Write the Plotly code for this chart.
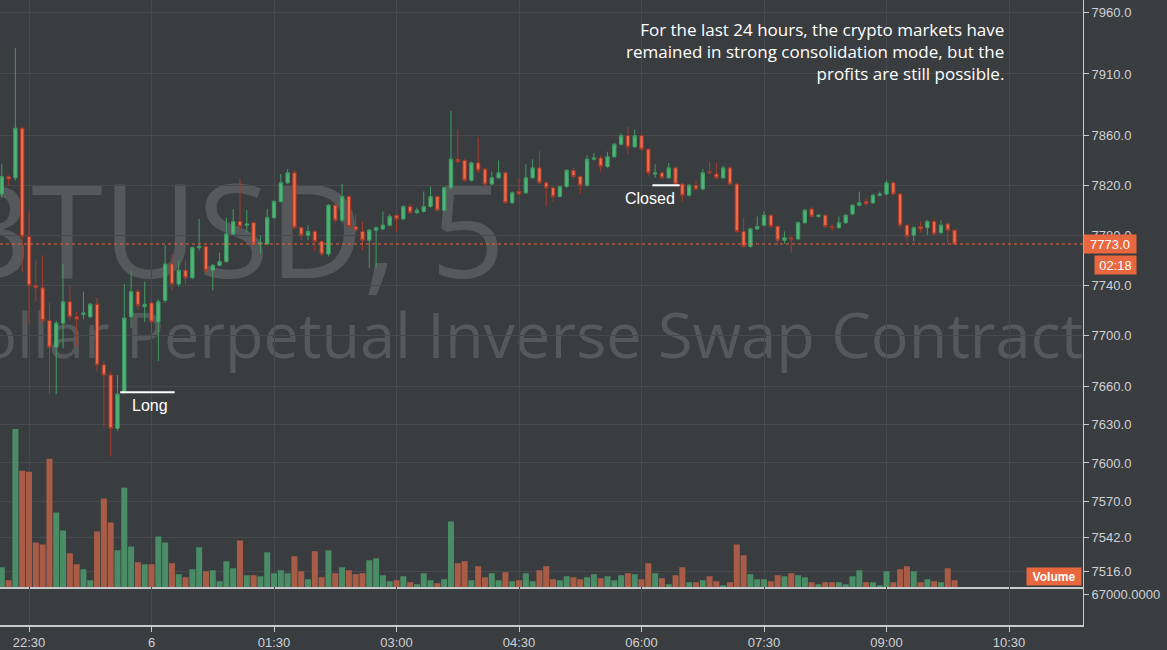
import math
import pandas as pd
import plotly.graph_objects as go

# ---------------- data (5-minute XBTUSD candles) ----------------
start_time = "2019-10-05 22:10"
n_bars = 141
times = pd.date_range(start_time, periods=n_bars, freq="5min")

open_ = [7813, 7827, 7826, 7866, 7779, 7740, 7738, 7712, 7691, 7710,
         7727, 7715, 7717, 7715, 7725, 7677, 7669, 7627, 7656, 7715,
         7735, 7723, 7726, 7711, 7728, 7757, 7741, 7752, 7746, 7770,
         7771, 7752, 7756, 7759, 7781, 7791, 7788, 7790, 7773, 7773,
         7794, 7807, 7822, 7830, 7786, 7780, 7783, 7775, 7765, 7804,
         7792, 7811, 7787, 7783, 7776, 7784, 7785, 7788, 7796, 7793,
         7803, 7798, 7799, 7803, 7811, 7800, 7818, 7841, 7840, 7824,
         7838, 7833, 7821, 7826, 7830, 7806, 7815, 7814, 7826, 7834,
         7822, 7818, 7811, 7819, 7832, 7827, 7820, 7841, 7842, 7835,
         7843, 7853, 7860, 7851, 7860, 7849, 7829, 7830, 7826, 7834,
         7821, 7812, 7820, 7817, 7831, 7829, 7826, 7834, 7821, 7783,
         7771, 7785, 7788, 7796, 7787, 7776, 7778, 7777, 7790, 7801,
         7795, 7796, 7787, 7786, 7790, 7797, 7804, 7807, 7806, 7812,
         7813, 7822, 7813, 7788, 7780, 7787, 7786, 7791, 7782, 7789,
         7784]
high = [7837, 7828, 7931, 7867, 7799, 7760, 7764, 7726, 7712, 7757,
        7739, 7719, 7735, 7726, 7730, 7680, 7672, 7669, 7741, 7752,
        7737, 7743, 7728, 7729, 7772, 7765, 7760, 7760, 7771, 7793,
        7772, 7757, 7766, 7794, 7801, 7825, 7800, 7791, 7780, 7801,
        7808, 7829, 7833, 7832, 7787, 7788, 7784, 7776, 7805, 7805,
        7821, 7812, 7797, 7791, 7785, 7787, 7799, 7797, 7797, 7804,
        7805, 7802, 7815, 7819, 7812, 7819, 7880, 7865, 7841, 7839,
        7859, 7834, 7831, 7840, 7831, 7815, 7826, 7837, 7841, 7848,
        7823, 7819, 7820, 7833, 7834, 7828, 7844, 7846, 7844, 7847,
        7854, 7862, 7867, 7865, 7861, 7850, 7837, 7831, 7838, 7835,
        7822, 7821, 7824, 7833, 7839, 7838, 7836, 7835, 7822, 7794,
        7786, 7795, 7799, 7797, 7788, 7783, 7779, 7791, 7801, 7803,
        7797, 7797, 7789, 7795, 7797, 7805, 7815, 7810, 7813, 7815,
        7824, 7823, 7814, 7789, 7787, 7791, 7792, 7793, 7792, 7790,
        7785]
low = [7810, 7820, 7824, 7751, 7710, 7727, 7710, 7654, 7654, 7690,
       7712, 7691, 7713, 7714, 7672, 7628, 7605, 7625, 7654, 7706,
       7721, 7711, 7702, 7680, 7726, 7736, 7739, 7741, 7745, 7768,
       7750, 7736, 7755, 7758, 7780, 7784, 7782, 7771, 7765, 7772,
       7793, 7806, 7821, 7785, 7776, 7776, 7767, 7763, 7763, 7790,
       7790, 7785, 7783, 7768, 7754, 7754, 7784, 7787, 7783, 7792,
       7797, 7797, 7798, 7802, 7799, 7799, 7817, 7838, 7823, 7823,
       7830, 7820, 7820, 7825, 7805, 7805, 7812, 7813, 7825, 7821,
       7803, 7807, 7810, 7818, 7825, 7813, 7819, 7840, 7831, 7834,
       7842, 7852, 7845, 7850, 7848, 7828, 7826, 7825, 7825, 7820,
       7807, 7811, 7816, 7816, 7829, 7825, 7825, 7820, 7782, 7770,
       7770, 7784, 7787, 7786, 7772, 7773, 7766, 7776, 7789, 7794,
       7794, 7786, 7783, 7785, 7789, 7796, 7803, 7804, 7805, 7811,
       7812, 7812, 7786, 7775, 7775, 7782, 7780, 7780, 7781, 7774,
       7772]
close = [7827, 7825, 7866, 7779, 7740, 7738, 7712, 7691, 7710, 7727,
         7715, 7713, 7718, 7725, 7677, 7669, 7627, 7654, 7714, 7735,
         7724, 7725, 7711, 7727, 7757, 7741, 7752, 7746, 7770, 7771,
         7752, 7756, 7759, 7781, 7791, 7787, 7789, 7773, 7774, 7794,
         7807, 7822, 7830, 7786, 7780, 7783, 7775, 7765, 7804, 7792,
         7811, 7787, 7784, 7776, 7784, 7786, 7788, 7795, 7793, 7803,
         7798, 7800, 7803, 7811, 7800, 7818, 7841, 7839, 7824, 7838,
         7832, 7821, 7826, 7830, 7806, 7814, 7813, 7826, 7834, 7822,
         7818, 7811, 7819, 7832, 7827, 7820, 7841, 7842, 7835, 7843,
         7853, 7860, 7851, 7860, 7849, 7830, 7830, 7826, 7834, 7821,
         7812, 7820, 7817, 7830, 7830, 7826, 7834, 7821, 7783, 7771,
         7785, 7787, 7796, 7787, 7776, 7778, 7777, 7790, 7800, 7795,
         7796, 7787, 7786, 7790, 7796, 7804, 7806, 7805, 7812, 7813,
         7822, 7813, 7788, 7779, 7786, 7785, 7791, 7781, 7788, 7784,
         7773]
volume = [20, 7, 159, 117, 116, 45, 43, 129, 75, 57,
          34, 23, 18, 7, 56, 89, 65, 37, 100, 41,
          25, 23, 23, 51, 45, 24, 13, 10, 18, 40,
          16, 17, 6, 26, 19, 47, 12, 12, 11, 35,
          14, 17, 14, 31, 16, 8, 36, 10, 37, 14,
          20, 17, 13, 14, 27, 29, 12, 6, 7, 11,
          5, 3, 14, 7, 4, 8, 66, 24, 26, 7,
          21, 10, 14, 7, 15, 6, 7, 14, 6, 17,
          21, 8, 7, 11, 10, 8, 10, 13, 9, 11,
          7, 12, 14, 13, 8, 24, 14, 9, 3, 12,
          20, 5, 5, 7, 11, 6, 2, 5, 43, 32,
          13, 8, 8, 6, 12, 11, 14, 12, 10, 5,
          3, 5, 5, 5, 3, 11, 17, 5, 5, 2,
          16, 5, 18, 21, 16, 5, 8, 6, 5, 19,
          7]

price_ticks = [7960, 7910, 7860, 7820, 7780, 7740, 7700, 7660, 7630, 7600,
               7570, 7542, 7516]
time_ticks = ["2019-10-05 22:30", "2019-10-06 00:00", "2019-10-06 01:30",
              "2019-10-06 03:00", "2019-10-06 04:30", "2019-10-06 06:00",
              "2019-10-06 07:30", "2019-10-06 09:00", "2019-10-06 10:30"]
time_labels = ["22:30", "6", "01:30", "03:00", "04:30", "06:00", "07:30",
               "09:00", "10:30"]
indicator_ticks = [0.816]
indicator_labels = ["67000.0000"]

symbol_text = "XBTUSD, 5"
description_text = "Bitcoin / US Dollar Perpetual Inverse Swap Contract"
note_text = ("For the last 24 hours, the crypto markets have<br>"
             "remained in strong consolidation mode, but the<br>"
             "profits are still possible.")
countdown_text = "02:18"
long_marker = {"t0": "2019-10-05 23:37", "t1": "2019-10-06 00:17",
               "price": 7655.5, "label_t": "2019-10-05 23:59",
               "label_price": 7645, "text": "Long"}
closed_marker = {"t0": "2019-10-06 06:08", "t1": "2019-10-06 06:28",
                 "price": 7820, "label_t": "2019-10-06 06:06",
                 "label_price": 7809.5, "text": "Closed"}

# ---------------- styles ----------------
BG = "#3a3d40"
GRID = "#47494c"
AXIS_LINE = "#c8cacc"
TEXT = "#cfd1d4"
UP_FILL = "#4fb477"
UP_LINE = "#3f9c62"
DN_FILL = "#ef6c4a"
DN_LINE = "#a53a28"
VOL_UP = "#4a8c65"
VOL_DN = "#a85c46"
ORANGE = "#e8673f"
FONT = "Liberation Sans, Arial, sans-serif"
WM_COLOR = "rgba(160,163,166,0.28)"

vol_colors = [VOL_UP if c >= o else VOL_DN for o, c in zip(open_, close)]

fig = go.Figure()

fig.add_trace(go.Bar(
    x=times, y=volume, marker=dict(color=vol_colors, line=dict(width=0)),
    xaxis="x", yaxis="y3", hoverinfo="skip", showlegend=False,
))

fig.add_trace(go.Candlestick(
    x=times, open=open_, high=high, low=low, close=close,
    increasing=dict(fillcolor=UP_FILL, line=dict(color=UP_LINE, width=1)),
    decreasing=dict(fillcolor=DN_FILL, line=dict(color=DN_LINE, width=1)),
    whiskerwidth=0, xaxis="x", yaxis="y", showlegend=False,
))

# empty indicator pane
fig.add_trace(go.Scatter(x=[times[0]], y=[None], xaxis="x2", yaxis="y2",
                         mode="lines", showlegend=False, hoverinfo="skip"))

pane_split = 38 / 628
x_range = ["2019-10-05 22:08:41", "2019-10-06 11:24:21"]

fig.update_layout(
    width=1167, height=650,
    margin=dict(l=0, r=84, t=0, b=22),
    paper_bgcolor=BG, plot_bgcolor=BG,
    font=dict(family=FONT, size=13, color=TEXT),
    showlegend=False,
    bargap=0.12,
    xaxis=dict(
        domain=[0, 1], anchor="y", range=x_range, type="date",
        rangeslider=dict(visible=False),
        tickvals=time_ticks, ticktext=time_labels, showticklabels=False,
        showgrid=True, gridcolor=GRID, gridwidth=1, zeroline=False,
        showline=True, linecolor=AXIS_LINE, linewidth=1.5, ticks="",
    ),
    xaxis2=dict(
        domain=[0, 1], anchor="y2", matches="x", type="date",
        tickvals=time_ticks, ticktext=time_labels,
        showgrid=True, gridcolor=GRID, gridwidth=1, zeroline=False,
        showline=True, linecolor=AXIS_LINE, linewidth=1.5,
        ticks="outside", ticklen=5, tickcolor=AXIS_LINE,
        tickfont=dict(family=FONT, size=13, color=TEXT),
    ),
    yaxis=dict(
        domain=[pane_split, 1], anchor="x", side="right", type="log",
        range=[3.875269, 3.901477],
        tickvals=price_ticks, ticktext=[f"{v:.1f}" for v in price_ticks],
        showgrid=True, gridcolor=GRID, gridwidth=1, zeroline=False,
        showline=True, linecolor=AXIS_LINE, linewidth=1,
        ticks="outside", ticklen=5, tickcolor=AXIS_LINE,
        tickfont=dict(family=FONT, size=13, color=TEXT),
    ),
    yaxis2=dict(
        domain=[0, pane_split], anchor="x2", side="right", range=[0, 1],
        tickvals=indicator_ticks, ticktext=indicator_labels,
        showgrid=False, zeroline=False,
        showline=True, linecolor=AXIS_LINE, linewidth=1,
        ticks="outside", ticklen=5, tickcolor=AXIS_LINE,
        tickfont=dict(family=FONT, size=13, color=TEXT),
    ),
    yaxis3=dict(
        overlaying="y", anchor="x", side="right", range=[0, 590],
        visible=False, showgrid=False, zeroline=False,
    ),
)

# watermark (below the candles)
fig.add_shape(type="rect", xref="paper", yref="paper",
              x0=-1.0, x1=508 / 1083, y0=(628 - 308) / 628, y1=(628 - 168) / 628,
              line=dict(width=0), fillcolor="rgba(0,0,0,0)", layer="between",
              label=dict(text=symbol_text, textposition="middle right", padding=0,
                         font=dict(family="Open Sans, sans-serif", size=130,
                                   color=WM_COLOR)))
fig.add_shape(type="rect", xref="paper", yref="paper",
              x0=-1.0, x1=1.003, y0=(628 - 369) / 628, y1=(628 - 309) / 628,
              line=dict(width=0), fillcolor="rgba(0,0,0,0)", layer="between",
              label=dict(text=description_text, textposition="middle right", padding=0,
                         font=dict(family="Open Sans, sans-serif", size=63,
                                   color=WM_COLOR)))

# last price dotted line
fig.add_shape(type="line", xref="paper", x0=0, x1=1, yref="y",
              y0=close[-1], y1=close[-1],
              line=dict(color=ORANGE, width=1, dash="dot"))

# user drawings (annotation y on a log axis is given in log10 units)
for m in (long_marker, closed_marker):
    fig.add_shape(type="line", xref="x", yref="y", x0=m["t0"], x1=m["t1"],
                  y0=m["price"], y1=m["price"], line=dict(color="white", width=2))
    fig.add_annotation(x=m["label_t"], y=math.log10(m["label_price"]),
                       xref="x", yref="y",
                       text=m["text"], showarrow=False, xanchor="center",
                       yanchor="middle",
                       font=dict(family=FONT, size=16, color="white"))

# note text
fig.add_annotation(x=1006 / 1083, y=1 - 16 / 628, xref="paper", yref="paper",
                   text=note_text, showarrow=False, xanchor="right", yanchor="top",
                   align="right",
                   font=dict(family="Open Sans, sans-serif", size=17, color="white"))

# price label + countdown
last_log = math.log10(close[-1])
fig.add_annotation(x=1, y=last_log, xref="paper", yref="y", xshift=54,
                   text=f"{close[-1]:.1f}", showarrow=False, xanchor="right",
                   yanchor="middle", bgcolor=ORANGE, borderpad=2,
                   width=48, height=14,
                   font=dict(family=FONT, size=13, color="white"))
fig.add_annotation(x=1, y=last_log, xref="paper", yref="y", xshift=54, yshift=-21,
                   text=countdown_text, showarrow=False, xanchor="right",
                   yanchor="middle", bgcolor=ORANGE, borderpad=2,
                   width=37, height=14,
                   font=dict(family=FONT, size=13, color="white"))

# volume label
fig.add_annotation(x=1, y=pane_split, xref="paper", yref="paper", xshift=-1, yshift=1,
                   text="<b>Volume</b>", showarrow=False, xanchor="right",
                   yanchor="bottom", bgcolor=ORANGE, borderpad=2,
                   width=50, height=13,
                   font=dict(family=FONT, size=12, color="white"))

fig.write_html("out.html",
               config={"displayModeBar": False},
               post_script="document.body.style.margin='0';"
                           "document.body.style.overflow='hidden';")
